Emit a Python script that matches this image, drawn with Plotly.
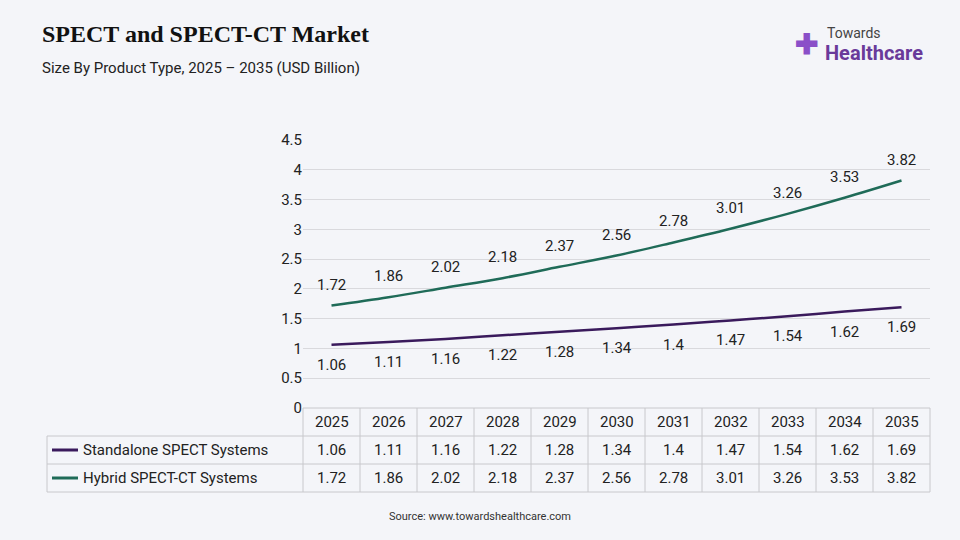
import plotly.graph_objects as go

years = ["2025","2026","2027","2028","2029","2030","2031","2032","2033","2034","2035"]
standalone = [1.06,1.11,1.16,1.22,1.28,1.34,1.4,1.47,1.54,1.62,1.69]
hybrid = [1.72,1.86,2.02,2.18,2.37,2.56,2.78,3.01,3.26,3.53,3.82]
series_names = ["Standalone SPECT Systems", "Hybrid SPECT-CT Systems"]
colors = ["#3a1a5c", "#1f6b58"]

W, H = 960, 540
L, R, T, B = 303, 930, 140, 408
def px(x): return (x - L) / (R - L)
def py(y): return (B - y) / (B - T)

font = "Roboto, Noto Sans, sans-serif"
fig = go.Figure()
xs = list(range(len(years)))
fig.add_trace(go.Scatter(x=xs, y=hybrid, mode="lines", line=dict(color=colors[1], width=2.5, shape="spline")))
fig.add_trace(go.Scatter(x=xs, y=standalone, mode="lines", line=dict(color=colors[0], width=2.5, shape="spline")))

shapes, ann = [], []
for i in xs:
    ann.append(dict(x=i, y=hybrid[i], xref="x", yref="y", text=str(hybrid[i]), showarrow=False,
                    yshift=21, font=dict(size=15, color="#222")))
    ann.append(dict(x=i, y=standalone[i], xref="x", yref="y", text=str(standalone[i]), showarrow=False,
                    yshift=-20, font=dict(size=15, color="#222")))
colw = (R - L) / len(years)
rows_y = [408, 436, 464, 492]
lc = "#c8c8cc"
def A(x, y, text, size=15, color="#222", xanchor="center", **kw):
    return dict(xref="paper", yref="paper", x=px(x), y=py(y), text=text, showarrow=False,
                xanchor=xanchor, yanchor="middle", font=dict(size=size, color=color, **kw))
for i, yy in enumerate(rows_y):
    x0 = L if i == 0 else 47
    shapes.append(dict(type="line", xref="paper", yref="paper", x0=px(x0), x1=px(R), y0=py(yy), y1=py(yy), line=dict(color=lc, width=1)))
for k in range(len(years) + 1):
    xx = L + k * colw
    shapes.append(dict(type="line", xref="paper", yref="paper", x0=px(xx), x1=px(xx), y0=py(408), y1=py(492), line=dict(color=lc, width=1)))
shapes.append(dict(type="line", xref="paper", yref="paper", x0=px(47), x1=px(47), y0=py(436), y1=py(492), line=dict(color=lc, width=1)))
for k, yv in enumerate(years):
    cx = L + (k + 0.5) * colw
    ann.append(A(cx, 422, yv))
    for r, vals in enumerate([standalone, hybrid]):
        ann.append(A(cx, 450 + 28 * r, str(vals[k])))
for r, name in enumerate(series_names):
    yy = 450 + 28 * r
    shapes.append(dict(type="line", xref="paper", yref="paper", x0=px(52), x1=px(78), y0=py(yy), y1=py(yy), line=dict(color=colors[r], width=3)))
    ann.append(A(81, yy, name, xanchor="left"))

ann += [
    A(40, 34, "<b>SPECT and SPECT-CT Market</b>", 24, "#111", "left", family="Liberation Serif, serif"),
    A(40, 68, "Size By Product Type, 2025 – 2035 (USD Billion)", 15, "#222", "left"),
    A(480, 516, "Source: www.towardshealthcare.com", 11, "#333"),
    A(825, 33, "Towards", 14, "#444", "left"),
    A(823, 53, "<b>Healthcare</b>", 20, "#6a3a9a", "left"),
    A(806, 44, "<b>✚</b>", 28, "#8a4fc8"),
]

fig.update_layout(width=W, height=H, margin=dict(l=L, r=W - R, t=T, b=H - B),
    paper_bgcolor="#f4f5f9", plot_bgcolor="#f4f5f9", showlegend=False,
    font=dict(family=font), shapes=shapes, annotations=ann)
fig.update_xaxes(range=[-0.5, len(years) - 0.5], showticklabels=False, showgrid=False, zeroline=False)
fig.update_yaxes(range=[0, 4.5], dtick=0.5, tickfont=dict(size=15, color="#222"), gridcolor="#d9d9dd",
    zeroline=False, tickformat="~g")
fig.write_html("out.html", config={"displayModeBar": False})
with open("out.html", encoding="utf-8") as f:
    html = f.read()
html = html.replace("<head>", "<head><style>html,body{margin:0;padding:0;background:#f4f5f9;}</style>", 1)
with open("out.html", "w", encoding="utf-8") as f:
    f.write(html)
